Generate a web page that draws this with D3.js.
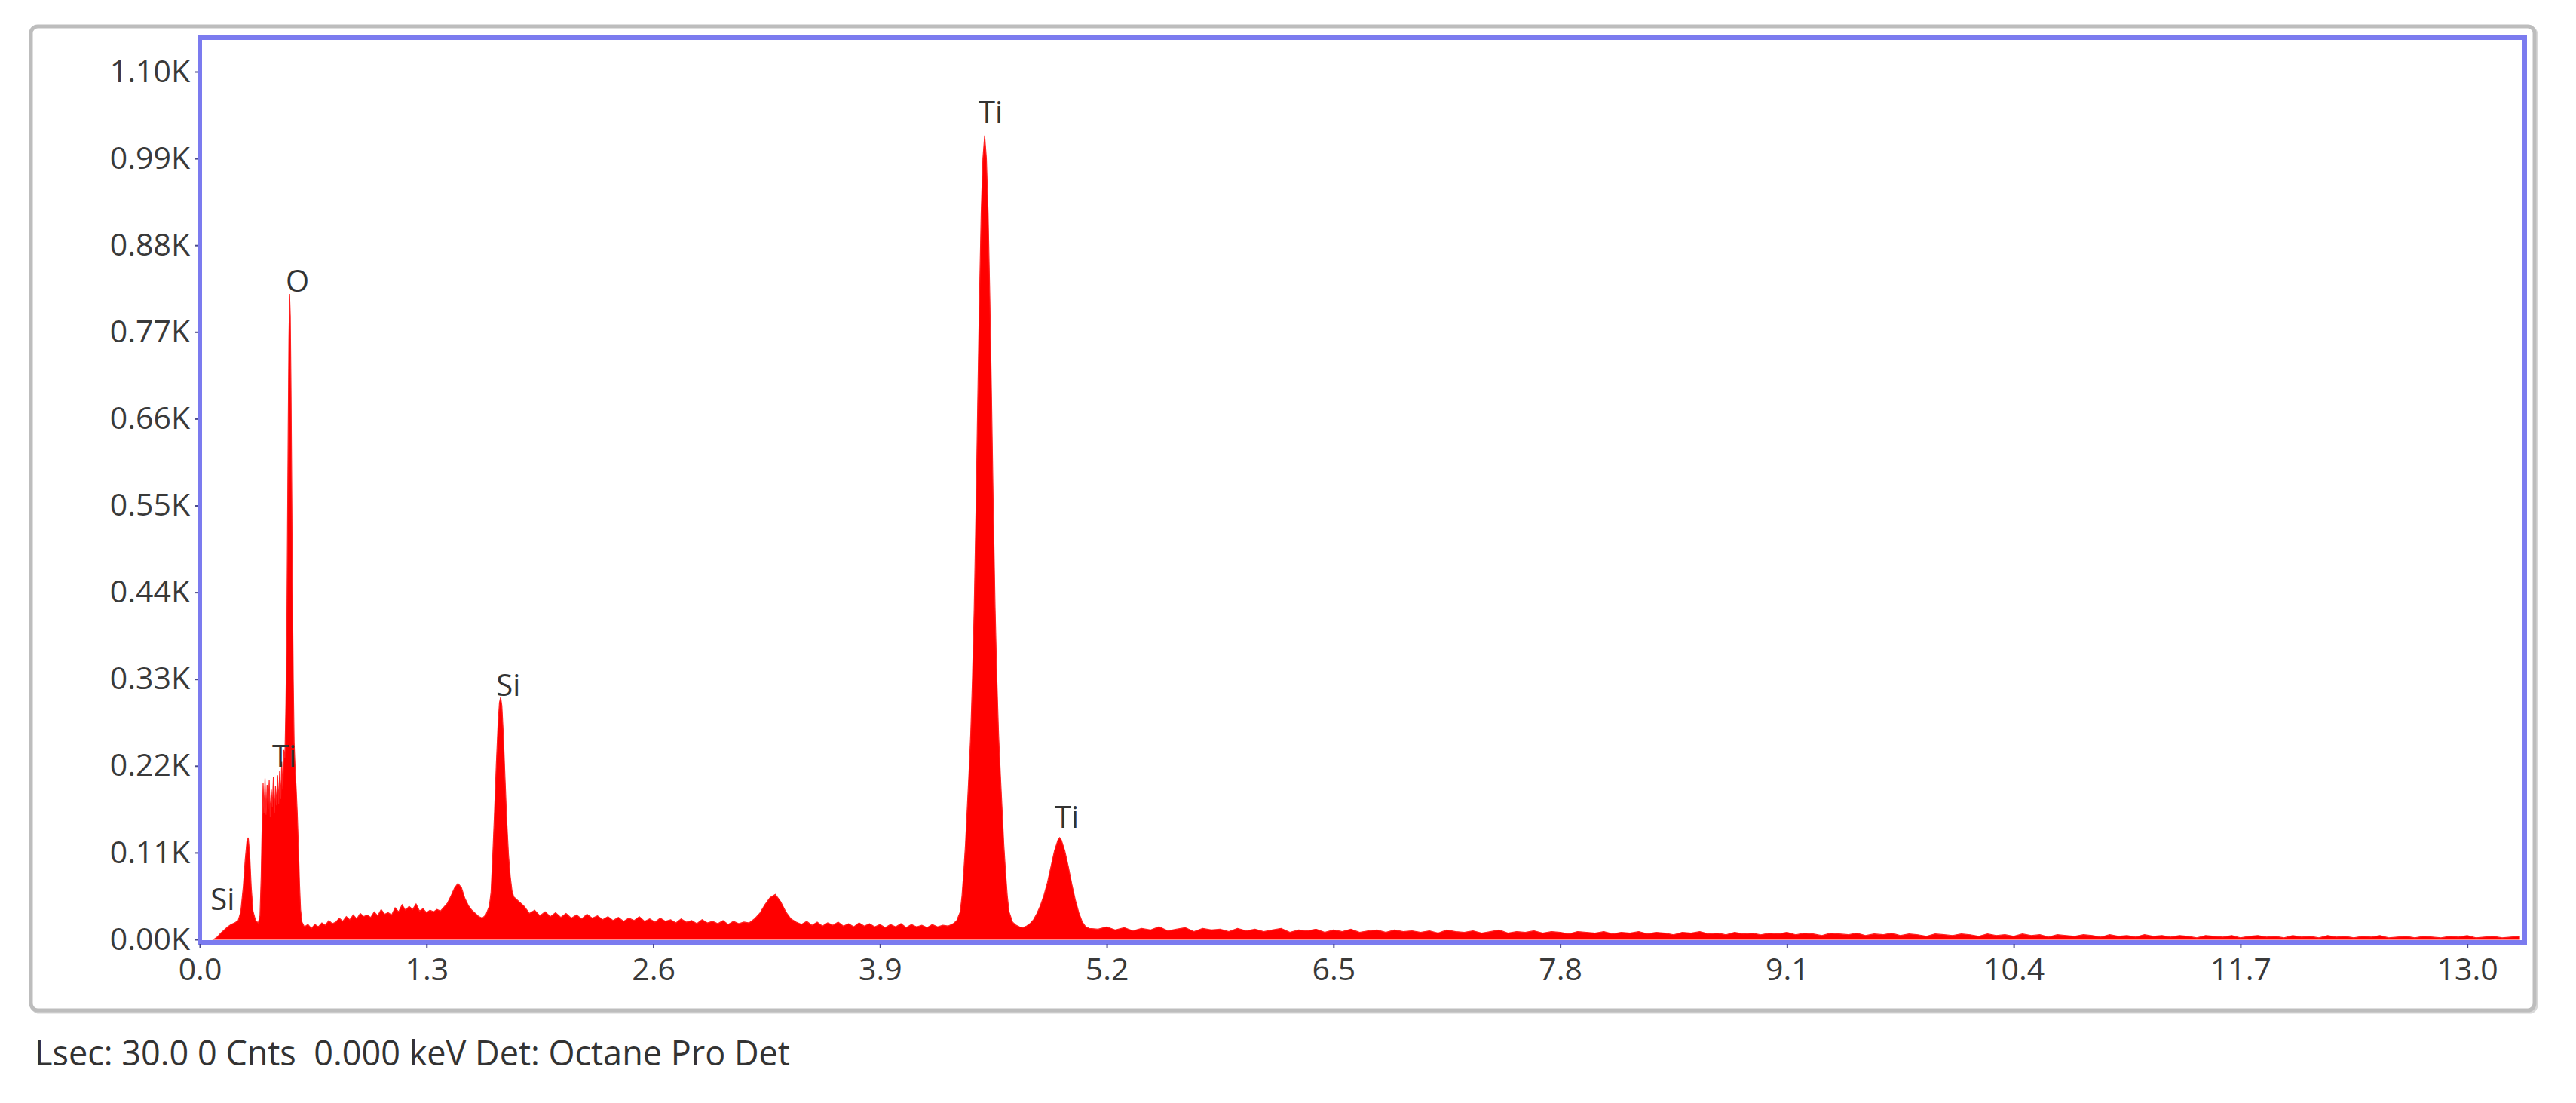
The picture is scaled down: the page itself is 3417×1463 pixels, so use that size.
<!DOCTYPE html>
<html><head><meta charset="utf-8">
<script src="https://cdn.jsdelivr.net/npm/d3@7"></script>
<style>
html,body{margin:0;padding:0;background:#fff;}
svg{display:block;}
text{font-family:"Open Sans",sans-serif;}
</style></head><body>
<svg id="chart" width="3417" height="1463"></svg>
<script>
// ---- data (energy keV, counts) ----
const lowRegion = [[0.08,0],[0.10,3],[0.12,8],[0.14,12],[0.16,16],[0.18,19],[0.20,21],[0.22,24],[0.235,35],[0.25,68],[0.26,100],[0.27,124],[0.278,129],[0.286,108],[0.295,66],[0.305,36],[0.32,24],[0.335,21],[0.345,30],[0.352,80],[0.358,150],[0.363,198],[0.368,160],[0.374,204],[0.38,158],[0.386,196],[0.392,165],[0.398,202],[0.404,155],[0.41,190],[0.416,168],[0.422,206],[0.428,160],[0.434,195],[0.44,170],[0.446,208],[0.452,172],[0.458,214],[0.464,178],[0.47,225],[0.476,190],[0.482,240],[0.488,230],[0.494,300],[0.499,390],[0.503,520],[0.507,650],[0.511,760],[0.515,818],[0.519,790],[0.523,700],[0.527,580],[0.531,450],[0.536,330],[0.541,250],[0.547,215],[0.553,190],[0.559,160],[0.566,115],[0.572,70],[0.578,38],[0.586,22],[0.60,16],[0.62,19]];
const alRegion = [[0.64,14],[0.66,19],[0.68,16],[0.70,21],[0.72,18],[0.74,24],[0.76,20],[0.78,22],[0.80,27],[0.82,23],[0.84,29],[0.86,25],[0.88,31],[0.90,26],[0.92,33],[0.94,29],[0.96,31],[0.98,28],[1.00,35],[1.02,30],[1.04,38],[1.06,32],[1.08,34],[1.10,31],[1.12,40],[1.14,35],[1.16,44],[1.18,37],[1.20,42],[1.22,38],[1.24,45],[1.26,36],[1.28,39],[1.30,34],[1.32,37],[1.34,35],[1.36,38],[1.38,36],[1.40,41],[1.42,46],[1.44,55],[1.46,65],[1.48,71],[1.50,66],[1.52,52],[1.54,43],[1.56,37],[1.58,33],[1.60,29],[1.62,27],[1.64,31],[1.66,42]];
const siRegion = [[1.67,60],[1.68,108],[1.69,162],[1.70,222],[1.71,272],[1.718,300],[1.725,307],[1.732,296],[1.74,262],[1.75,205],[1.76,150],[1.77,108],[1.78,80],[1.79,62],[1.80,54],[1.82,50],[1.84,46],[1.86,42]];
const midRegion = [[1.89,33],[1.92,37],[1.95,30],[1.98,35],[2.01,29],[2.04,34],[2.07,28],[2.10,33],[2.13,27],[2.16,31],[2.19,26],[2.22,32],[2.25,27],[2.28,30],[2.31,25],[2.34,29],[2.37,24],[2.40,28],[2.43,23],[2.46,27],[2.49,24],[2.52,29],[2.55,23],[2.58,26],[2.61,22],[2.64,27],[2.67,23],[2.70,25],[2.73,21],[2.76,26],[2.79,22],[2.82,24],[2.85,20],[2.88,25],[2.91,21],[2.94,23],[2.97,20],[3.00,24],[3.03,19],[3.06,23],[3.09,20],[3.12,22],[3.15,21],[3.18,26],[3.21,33],[3.24,44],[3.27,53],[3.30,57],[3.33,48],[3.36,35],[3.39,26],[3.42,22],[3.45,19],[3.48,23],[3.51,18],[3.54,22],[3.57,17],[3.60,21],[3.63,18],[3.66,22],[3.69,17],[3.72,20],[3.75,16],[3.78,21],[3.81,17],[3.84,20],[3.87,16],[3.90,19],[3.93,15],[3.96,19],[3.99,16],[4.02,20],[4.05,15],[4.08,19],[4.11,16],[4.14,18],[4.17,15],[4.20,19],[4.23,16],[4.26,18],[4.29,17],[4.32,20]];
const tiRegion = [[4.34,24],[4.36,35],[4.37,55],[4.38,85],[4.39,120],[4.40,165],[4.41,210],[4.42,260],[4.43,330],[4.44,420],[4.45,540],[4.46,680],[4.47,810],[4.48,920],[4.49,990],[4.50,1019],[4.51,990],[4.52,920],[4.53,810],[4.54,680],[4.55,540],[4.56,420],[4.57,330],[4.58,260],[4.59,210],[4.60,165],[4.61,120],[4.62,85],[4.63,55],[4.64,35],[4.66,22],[4.68,18],[4.70,16],[4.72,15],[4.74,17],[4.76,20],[4.78,25],[4.80,33],[4.82,43],[4.84,56],[4.86,72],[4.88,92],[4.90,112],[4.92,126],[4.93,129],[4.94,126],[4.96,112],[4.98,92],[5.00,70],[5.02,50],[5.04,34],[5.06,22],[5.08,16],[5.10,14]];
// tail: detector channels from 5.15 keV every 0.05 keV
const tailStartKeV = 5.15, tailStepKeV = 0.05;
const tailCounts = [13,16,12,15,11,14,12,16,11,13,15,10,14,12,13,10,14,11,
  13,10,12,14,9,12,11,13,9,12,10,13,9,11,12,9,12,10,11,9,
  11,8,12,10,9,11,8,10,12,8,10,9,11,8,10,9,7,10,9,8,
  10,7,9,8,10,7,9,8,6,9,8,10,7,8,6,9,7,8,6,8,
  7,9,6,8,7,5,8,7,6,8,5,7,6,8,5,7,6,4,7,6,
  5,7,6,4,7,5,6,4,7,5,6,3,6,5,4,6,5,3,6,4,
  5,3,6,4,5,3,5,4,2,5,4,3,5,2,4,5,3,4,2,5,
  3,4,2,5,3,4,2,4,3,5,2,3,4,2,4,3,2,4,3,5,2,3,4,2,3,4];

const xTicks = [0,1.3,2.6,3.9,5.2,6.5,7.8,9.1,10.4,11.7,13.0];
const yTicks = [0,110,220,330,440,550,660,770,880,990,1100];

const peakLabels = ["Si","Ti","O","Si","Ti","Ti"];
const labelKeV   = [0.062,0.415,0.493,1.700,4.465,4.901];
const labelCnt   = [37,219,821,309,1035,141];

const footerText = "Lsec: 30.0 0 Cnts  0.000 keV Det: Octane Pro Det";

// ---- build ----
const tail = tailCounts.map((c,i)=>[tailStartKeV + i*tailStepKeV, c]);
const spectrum = [...lowRegion, ...alRegion, ...siRegion, ...midRegion, ...tiRegion, ...tail];

const svg = d3.select("#chart");
const P = {left:265, right:3349, top:50, bottom:1250};
const x = d3.scaleLinear().domain([0,13.33]).range([P.left, P.right]);
const y = d3.scaleLinear().domain([0,1100]).range([1246, 95]);

// outer panel with slight shadow
svg.append("rect").attr("x",43).attr("y",37).attr("width",3321).attr("height",1305)
  .attr("rx",9).attr("fill","none").attr("stroke","#d8d8d8").attr("stroke-width",5);
svg.append("rect").attr("x",41).attr("y",35).attr("width",3321).attr("height",1305)
  .attr("rx",9).attr("fill","#fff").attr("stroke","#bdbdbd").attr("stroke-width",5);

svg.append("defs").append("clipPath").attr("id","clip").append("rect")
  .attr("x",P.left).attr("y",P.top).attr("width",P.right-P.left).attr("height",P.bottom-P.top);

const area = d3.area().x(d=>x(d[0])).y0(y(0)).y1(d=>y(d[1]));
svg.append("path").datum(spectrum).attr("clip-path","url(#clip)")
  .attr("d",area).attr("fill","#ff0000").attr("stroke","#ff2020").attr("stroke-width",1.2);

// frame
svg.append("rect").attr("x",P.left).attr("y",P.top).attr("width",P.right-P.left).attr("height",P.bottom-P.top)
  .attr("fill","none").attr("stroke","#7b7bef").attr("stroke-width",6);

// axes
const yAxis = d3.axisLeft(y).tickValues(yTicks).tickSize(5).tickPadding(6)
  .tickFormat(d=>(d/1000).toFixed(2)+"K");
const gy = svg.append("g").attr("transform",`translate(${P.left-2},0)`).call(yAxis);
const xAxis = d3.axisBottom(x).tickValues(xTicks).tickSize(5).tickPadding(14)
  .tickFormat(d=>d.toFixed(1));
const gx = svg.append("g").attr("transform",`translate(0,${P.bottom+2})`).call(xAxis);
[gy,gx].forEach(g=>{
  g.select(".domain").remove();
  g.selectAll(".tick line").attr("stroke","#4a4a8a").attr("stroke-width",2);
  g.selectAll(".tick text").attr("fill","#3a3a3a").style("font-size","41px")
    .style("font-family","'Open Sans',sans-serif");
});

// peak labels
svg.append("g").selectAll("text").data(peakLabels).join("text")
  .attr("x",(d,i)=>x(labelKeV[i])).attr("y",(d,i)=>y(labelCnt[i]))
  .attr("fill","#333").style("font-size","40px").text(d=>d);

// footer
svg.append("text").attr("x",46).attr("y",1413).attr("fill","#333")
  .style("font-size","45px").style("white-space","pre").attr("xml:space","preserve").text(footerText);
</script>
</body></html>
